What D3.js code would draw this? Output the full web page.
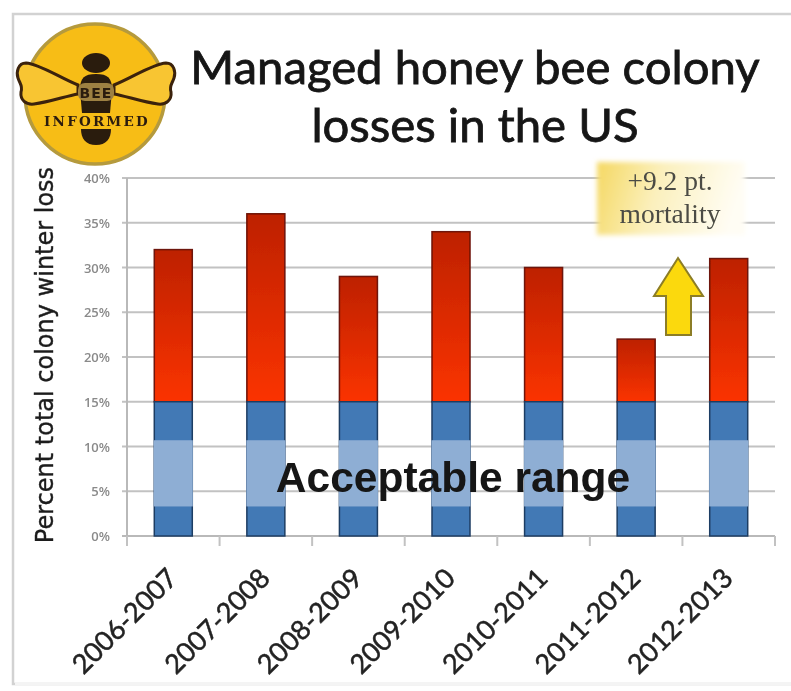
<!DOCTYPE html>
<html><head><meta charset="utf-8">
<script src="https://cdn.jsdelivr.net/npm/d3@7"></script>
<style>html,body{margin:0;padding:0;background:#fff;overflow:hidden}svg{display:block}</style>
</head><body><svg id="c" width="791" height="691"></svg>
<script>
const seasons = ["2006-2007","2007-2008","2008-2009","2009-2010","2010-2011","2011-2012","2012-2013"];
const totalLoss = [32,36,29,34,30,22,31];
const acceptableTop = 15;
const acceptableBandLow = 3.3;
const acceptableBandHigh = 10.7;
const yTicks = [0,5,10,15,20,25,30,35,40];

const svg = d3.select("#c");
const defs = svg.append("defs");
const blur = (id,s)=>defs.append("filter").attr("id",id).attr("x","-20%").attr("y","-20%").attr("width","140%").attr("height","140%").append("feGaussianBlur").attr("stdDeviation",s);
blur("b",0.7); blur("b2",2.5);
const g1 = defs.append("linearGradient").attr("id","red").attr("x1",0).attr("x2",0).attr("y1",0).attr("y2",1);
g1.append("stop").attr("offset","0%").attr("stop-color","#bd2102");
g1.append("stop").attr("offset","100%").attr("stop-color","#fb3300");
const g2 = defs.append("linearGradient").attr("id","note").attr("x1",0).attr("x2",1).attr("y1",0).attr("y2",0.15);
g2.append("stop").attr("offset","0%").attr("stop-color","#f5d862");
g2.append("stop").attr("offset","45%").attr("stop-color","#fbf0bd");
g2.append("stop").attr("offset","100%").attr("stop-color","#fffdf4");

const root = svg.append("g").attr("filter","url(#b)");
root.append("rect").attr("x",13).attr("y",14).attr("width",900).attr("height",670).attr("fill","#fff").attr("stroke","#d2d2d2").attr("stroke-width",2.5);
root.append("line").attr("x1",15).attr("x2",791).attr("y1",684).attr("y2",684).attr("stroke","#f4f4f4").attr("stroke-width",3);

const x = d3.scaleBand().domain(seasons).range([127,775]);
const y = d3.scaleLinear().domain([0,40]).range([536,178]);
const bw = 38, cx = d=>x(d)+x.bandwidth()/2;

// gridlines
root.append("g").selectAll("line").data(yTicks).join("line")
  .attr("x1",122).attr("x2",775).attr("y1",d=>y(d)).attr("y2",d=>y(d))
  .attr("stroke",d=>d===0?"#b9b9b9":"#c2c2c2").attr("stroke-width",2);
root.append("line").attr("x1",127).attr("x2",127).attr("y1",178).attr("y2",546).attr("stroke","#b9b9b9").attr("stroke-width",2);
root.append("g").selectAll("line").data(seasons.concat(["end"])).join("line")
  .attr("x1",(d,i)=>127+i*x.step()).attr("x2",(d,i)=>127+i*x.step())
  .attr("y1",536).attr("y2",546).attr("stroke","#c2c2c2").attr("stroke-width",2);

// tick labels
root.append("g").selectAll("text").data(yTicks).join("text")
  .attr("x",110).attr("y",d=>y(d)+5).attr("text-anchor","end")
  .attr("font-family","'Open Sans'").attr("font-size",13).attr("font-weight",600).attr("fill","#8a8a8a").text(d=>d+"%");

// bars
const bars = root.append("g").selectAll("g").data(seasons).join("g");
bars.append("rect").attr("x",d=>cx(d)-bw/2).attr("width",bw)
  .attr("y",(d,i)=>y(totalLoss[i])).attr("height",(d,i)=>y(acceptableTop)-y(totalLoss[i]))
  .attr("fill","url(#red)").attr("stroke","#6d1207").attr("stroke-width",1.5);
bars.append("rect").attr("x",d=>cx(d)-bw/2).attr("width",bw)
  .attr("y",y(acceptableTop)).attr("height",y(0)-y(acceptableTop))
  .attr("fill","#4279b5").attr("stroke","#1e3d63").attr("stroke-width",1.5);
bars.append("rect").attr("x",d=>cx(d)-bw/2-0.5).attr("width",bw+1)
  .attr("y",y(acceptableBandHigh)).attr("height",y(acceptableBandLow)-y(acceptableBandHigh))
  .attr("fill","#8eaed4");

// x labels
root.append("g").selectAll("text").data(seasons).join("text")
  .attr("transform",d=>`translate(${cx(d)+1},${575}) rotate(-45)`)
  .attr("text-anchor","end").attr("dominant-baseline","middle")
  .attr("font-family","Lato").attr("font-size",27).attr("fill","#222").attr("stroke","#222").attr("stroke-width",0.5).text(d=>d);

// axis title
root.append("text").attr("transform","translate(53,355) rotate(-90)").attr("text-anchor","middle")
  .attr("font-family","'DejaVu Sans'").attr("font-size",24).attr("fill","#1c1c1c").attr("stroke","#1c1c1c").attr("stroke-width",0.4).text("Percent total colony winter loss");

// title
root.append("text").attr("x",475).attr("y",83.5).attr("text-anchor","middle")
  .attr("font-family","Lato").attr("font-size",47.3).attr("fill","#141414").attr("stroke","#141414").attr("stroke-width",0.8).text("Managed honey bee colony");
root.append("text").attr("x",475).attr("y",142).attr("text-anchor","middle")
  .attr("font-family","Lato").attr("font-size",47.3).attr("fill","#141414").attr("stroke","#141414").attr("stroke-width",0.8).text("losses in the US");

// overlay label
root.append("text").attr("x",453).attr("y",492).attr("text-anchor","middle")
  .attr("font-family","'Liberation Sans'").attr("font-weight",700).attr("font-size",42.5).attr("fill","#141414").text("Acceptable range");

// note
root.append("rect").attr("x",597).attr("y",162).attr("width",148).attr("height",73).attr("fill","url(#note)").attr("filter","url(#b2)");
root.append("text").attr("x",670).attr("y",190).attr("text-anchor","middle").attr("font-family","'Liberation Serif'").attr("font-size",27.5).attr("fill","#4c4c44").text("+9.2 pt.");
root.append("text").attr("x",670).attr("y",223).attr("text-anchor","middle").attr("font-family","'Liberation Serif'").attr("font-size",27.5).attr("fill","#4c4c44").text("mortality");

// arrow
root.append("path").attr("d",d3.line()([[678,258],[703,296],[691,296],[691,335],[666,335],[666,296],[654,296]])+"Z")
  .attr("fill","#fbd90a").attr("stroke","#8c7d25").attr("stroke-width",2);

// logo
const logo = root.append("g");
logo.append("circle").attr("cx",95).attr("cy",94).attr("r",70).attr("fill","#f7bd19").attr("stroke","#b59a3c").attr("stroke-width",3.5);
const wing = "M78 85 C60 78 40 64 26 63 C18 63 16 72 18 78 C20 84 23 86 21 92 C20 100 26 105 34 104 C50 102 66 96 78 94 Z";
logo.append("path").attr("d",wing).attr("fill","#f8c531").attr("stroke","#3b2208").attr("stroke-width",3);
logo.append("path").attr("d",wing).attr("transform","translate(192,0) scale(-1,1)").attr("fill","#f8c531").attr("stroke","#3b2208").attr("stroke-width",3);
logo.append("ellipse").attr("cx",96).attr("cy",63).attr("rx",14).attr("ry",10).attr("fill","#2b1a10");
logo.append("path").attr("d","M80 90 C80 78 84 74 96 74 C108 74 112 78 112 90 L110 113 L82 113 Z").attr("fill","#2b1a10");
logo.append("path").attr("d","M81 129 H111 C111 139 106 145 96 145 C86 145 81 139 81 129 Z").attr("fill","#2b1a10");
logo.append("rect").attr("x",78).attr("y",83).attr("width",36).attr("height",18).attr("rx",7).attr("fill","#9d8043");
logo.append("text").attr("x",96).attr("y",98).attr("text-anchor","middle").attr("font-family","'DejaVu Sans'").attr("font-weight",700).attr("font-size",14).attr("letter-spacing",1).attr("fill","#2b1a10").text("BEE");
logo.append("text").attr("x",97).attr("y",126).attr("text-anchor","middle").attr("font-family","'DejaVu Serif'").attr("font-weight",700).attr("font-size",13.5).attr("letter-spacing",2.2).attr("fill","#2b1a10").text("INFORMED");
</script></body></html>
